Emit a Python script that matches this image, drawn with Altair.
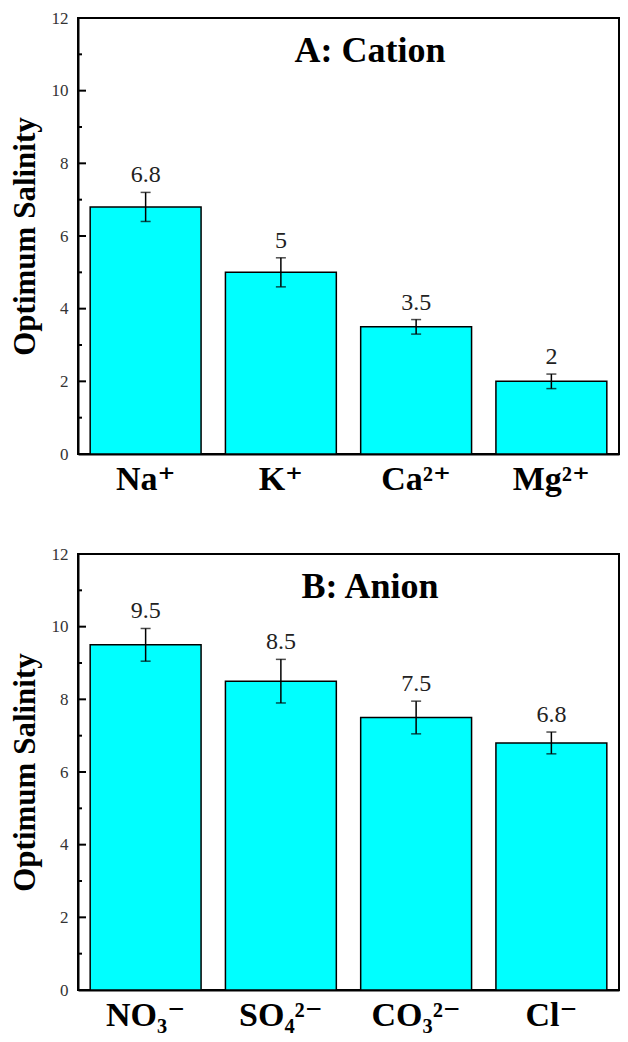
import altair as alt
import pandas as pd

# ---- data ----
cations = ["Na⁺", "K⁺", "Ca²⁺", "Mg²⁺"]
cation_values = [6.8, 5.0, 3.5, 2.0]
cation_errors = [0.4, 0.4, 0.2, 0.2]
cation_labels = ["6.8", "5", "3.5", "2"]

anions = ["NO₃⁻", "SO₄²⁻", "CO₃²⁻", "Cl⁻"]
anion_values = [9.5, 8.5, 7.5, 6.8]
anion_errors = [0.45, 0.6, 0.45, 0.3]
anion_labels = ["9.5", "8.5", "7.5", "6.8"]

major_ticks = [0, 2, 4, 6, 8, 10, 12]
minor_ticks = [1, 3, 5, 7, 9, 11]

FONT = "Times New Roman, Liberation Serif, DejaVu Serif, serif"
W, H = 541, 436


def panel(names, vals, errs, labels, title):
    df = pd.DataFrame({
        "ion": names,
        "val": vals,
        "lo": [v - e for v, e in zip(vals, errs)],
        "hi": [v + e for v, e in zip(vals, errs)],
        "label": labels,
    })
    yscale = alt.Scale(domain=[0, 12], nice=False, zero=True)
    yaxis = alt.Axis(
        values=major_ticks, title="Optimum Salinity", titleFont=FONT,
        titleFontSize=31, titleFontWeight="bold", titleColor="black",
        titlePadding=10, labelFont=FONT, labelFontSize=17, labelColor="#333",
        labelPadding=10, ticks=False, tickSize=0, grid=False,
        domainColor="black", domainWidth=2,
    )
    xaxis = alt.Axis(
        title=None, labelAngle=0, labelFont=FONT, labelFontSize=34,
        labelFontWeight="bold", labelColor="black", labelPadding=8,
        ticks=False, tickSize=0, domainColor="black", domainWidth=2,
    )
    xenc = alt.X("ion:N", sort=names,
                 scale=alt.Scale(paddingInner=0.18, paddingOuter=0.09),
                 axis=xaxis)
    base = alt.Chart(df)
    bars = base.mark_bar(color="#00FFFF", stroke="black", strokeWidth=1.5).encode(
        x=xenc, y=alt.Y("val:Q", scale=yscale, axis=yaxis))
    err = base.mark_rule(color="black", strokeWidth=1.5).encode(
        x=xenc, y=alt.Y("lo:Q", scale=yscale, axis=yaxis), y2="hi:Q")
    cap_lo = base.mark_tick(color="black", thickness=1.5, size=10).encode(
        x=xenc, y=alt.Y("lo:Q", scale=yscale, axis=yaxis))
    cap_hi = base.mark_tick(color="black", thickness=1.5, size=10).encode(
        x=xenc, y=alt.Y("hi:Q", scale=yscale, axis=yaxis))
    txt = base.mark_text(font=FONT, fontSize=24, baseline="bottom", dy=-5,
                         color="#222").encode(
        x=xenc, y=alt.Y("hi:Q", scale=yscale, axis=yaxis), text="label:N")
    maj = alt.Chart(pd.DataFrame({"v": major_ticks})).mark_rule(
        color="black", strokeWidth=2).encode(
        y=alt.Y("v:Q", scale=yscale, axis=yaxis),
        x=alt.value(0), x2=alt.value(8))
    mnr = alt.Chart(pd.DataFrame({"v": minor_ticks})).mark_rule(
        color="black", strokeWidth=2).encode(
        y=alt.Y("v:Q", scale=yscale, axis=yaxis),
        x=alt.value(0), x2=alt.value(4))
    ttl = alt.Chart(pd.DataFrame({"t": [title]})).mark_text(
        font=FONT, fontSize=36, fontWeight="bold", color="black",
        baseline="alphabetic", align="center").encode(
        text="t:N", x=alt.value(292), y=alt.value(44))
    return alt.layer(bars, err, cap_lo, cap_hi, txt, maj, mnr, ttl).properties(
        width=W, height=H)


top = panel(cations, cation_values, cation_errors, cation_labels, "A: Cation")
bottom = panel(anions, anion_values, anion_errors, anion_labels, "B: Anion")

chart = alt.vconcat(top, bottom, spacing=100, bounds="flush").configure_view(
    stroke="black", strokeWidth=2
).properties(padding={"left": 0, "top": 0, "right": 0, "bottom": 0})

chart.save("out.html", embed_options={"renderer": "svg", "actions": False})
